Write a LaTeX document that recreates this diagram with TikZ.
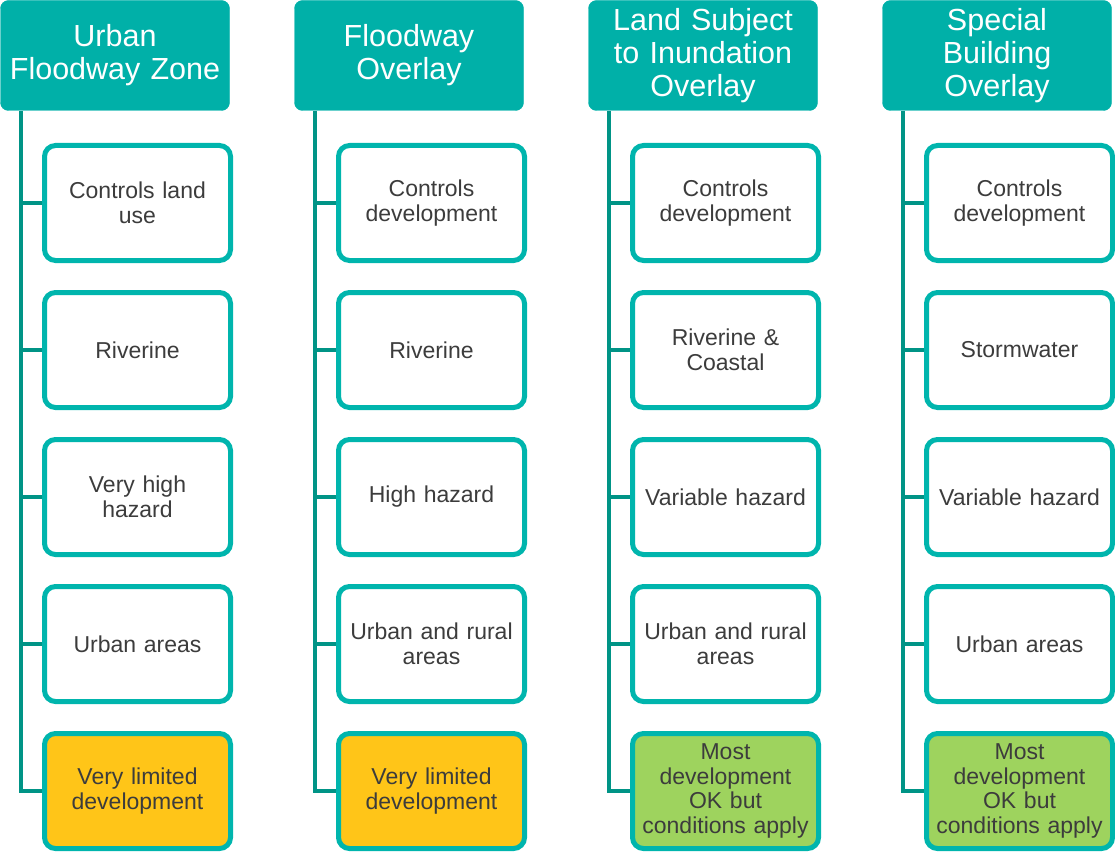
\documentclass[tikz,border=0pt]{standalone}
\usepackage{fontspec}
\setmainfont{Liberation Sans}

\definecolor{HeadFill}{RGB}{0,176,168}
\definecolor{BoxLine}{RGB}{0,181,173}
\definecolor{SpineLine}{RGB}{0,148,134}
\definecolor{BoxText}{RGB}{60,60,60}
\definecolor{LimitFill}{RGB}{255,197,24}
\definecolor{OkFill}{RGB}{158,211,94}

\tikzset{
  HeadStyle/.style = {draw=HeadFill, fill=HeadFill, rounded corners=8pt,
    minimum width=229pt, minimum height=110pt, inner sep=0pt,
    text width=229pt, align=center, text=white,
    font=\fontsize{30.5}{33}\selectfont},
  ItemStyle/.style = {draw=BoxLine, fill=white, line width=5pt, rounded corners=11pt,
    minimum width=186pt, minimum height=115pt, inner sep=0pt,
    text width=186pt, align=center, text=BoxText,
    font=\fontsize{23}{24.5}\selectfont},
  LimitStyle/.style = {ItemStyle, fill=LimitFill},
  OkStyle/.style = {ItemStyle, fill=OkFill},
  SpineStyle/.style = {draw=SpineLine, line width=4.5pt}
}

\begin{document}
\begin{tikzpicture}[x=1pt, y=-1pt]
    \useasboundingbox (0,0) rectangle (1115,853);

    % headers
    \node[HeadStyle] (UFZ)  at (115,55.5) {Urban\\Floodway Zone};
    \node[HeadStyle] (FO)   at (409,55.5) {Floodway\\Overlay};
    \node[HeadStyle] (LSIO) at (703,55.5) {Land Subject\\to Inundation\\Overlay};
    \node[HeadStyle] (SBO)  at (997,55.5) {Special\\Building\\Overlay};

    % Urban Floodway Zone
    \node[ItemStyle]  (UFZa) at (137.5,203) {Controls land\\use};
    \node[ItemStyle]  (UFZb) at (137.5,350) {Riverine};
    \node[ItemStyle]  (UFZc) at (137.5,497) {Very high\\hazard};
    \node[ItemStyle]  (UFZd) at (137.5,644) {Urban areas};
    \node[LimitStyle] (UFZe) at (137.5,791) {Very limited\\development};

    % Floodway Overlay
    \node[ItemStyle]  (FOa) at (431.5,203) {Controls\\development};
    \node[ItemStyle]  (FOb) at (431.5,350) {Riverine};
    \node[ItemStyle]  (FOc) at (431.5,497) {High hazard};
    \node[ItemStyle]  (FOd) at (431.5,644) {Urban and rural\\areas};
    \node[LimitStyle] (FOe) at (431.5,791) {Very limited\\development};

    % Land Subject to Inundation Overlay
    \node[ItemStyle] (LSIOa) at (725.5,203) {Controls\\development};
    \node[ItemStyle] (LSIOb) at (725.5,350) {Riverine \&\\Coastal};
    \node[ItemStyle] (LSIOc) at (725.5,497) {Variable hazard};
    \node[ItemStyle] (LSIOd) at (725.5,644) {Urban and rural\\areas};
    \node[OkStyle]   (LSIOe) at (725.5,791) {Most\\development\\OK but\\conditions apply};

    % Special Building Overlay
    \node[ItemStyle] (SBOa) at (1019.5,203) {Controls\\development};
    \node[ItemStyle] (SBOb) at (1019.5,350) {Stormwater};
    \node[ItemStyle] (SBOc) at (1019.5,497) {Variable hazard};
    \node[ItemStyle] (SBOd) at (1019.5,644) {Urban areas};
    \node[OkStyle]   (SBOe) at (1019.5,791) {Most\\development\\OK but\\conditions apply};

    % spines
    \coordinate (UFZs)  at (21,111);
    \coordinate (FOs)   at (315,111);
    \coordinate (LSIOs) at (609,111);
    \coordinate (SBOs)  at (903,111);

    \draw[SpineStyle] (UFZs) |- (UFZe.west);
    \draw[SpineStyle] (UFZa.west) -- (UFZa.west -| UFZs);
    \draw[SpineStyle] (UFZb.west) -- (UFZb.west -| UFZs);
    \draw[SpineStyle] (UFZc.west) -- (UFZc.west -| UFZs);
    \draw[SpineStyle] (UFZd.west) -- (UFZd.west -| UFZs);

    \draw[SpineStyle] (FOs) |- (FOe.west);
    \draw[SpineStyle] (FOa.west) -- (FOa.west -| FOs);
    \draw[SpineStyle] (FOb.west) -- (FOb.west -| FOs);
    \draw[SpineStyle] (FOc.west) -- (FOc.west -| FOs);
    \draw[SpineStyle] (FOd.west) -- (FOd.west -| FOs);

    \draw[SpineStyle] (LSIOs) |- (LSIOe.west);
    \draw[SpineStyle] (LSIOa.west) -- (LSIOa.west -| LSIOs);
    \draw[SpineStyle] (LSIOb.west) -- (LSIOb.west -| LSIOs);
    \draw[SpineStyle] (LSIOc.west) -- (LSIOc.west -| LSIOs);
    \draw[SpineStyle] (LSIOd.west) -- (LSIOd.west -| LSIOs);

    \draw[SpineStyle] (SBOs) |- (SBOe.west);
    \draw[SpineStyle] (SBOa.west) -- (SBOa.west -| SBOs);
    \draw[SpineStyle] (SBOb.west) -- (SBOb.west -| SBOs);
    \draw[SpineStyle] (SBOc.west) -- (SBOc.west -| SBOs);
    \draw[SpineStyle] (SBOd.west) -- (SBOd.west -| SBOs);
\end{tikzpicture}
\end{document}
